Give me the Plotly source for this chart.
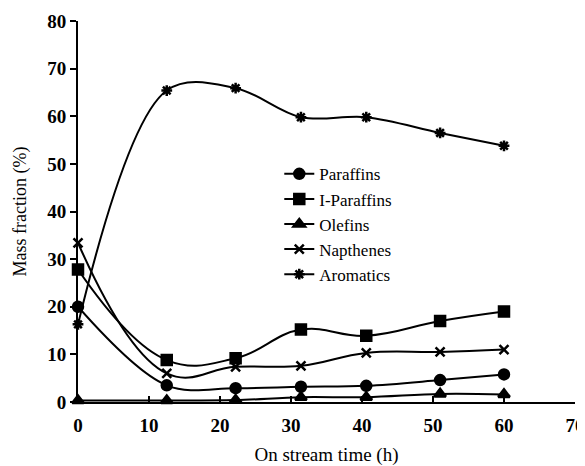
import plotly.graph_objects as go

time_h = [0, 12.5, 22.2, 31.4, 40.6, 51, 60]
paraffins = [20.0, 3.5, 2.9, 3.2, 3.4, 4.6, 5.8]
i_paraffins = [27.8, 8.8, 9.2, 15.2, 13.9, 17.0, 19.0]
olefins = [0.3, 0.3, 0.4, 1.0, 1.0, 1.7, 1.6]
napthenes = [33.4, 6.0, 7.4, 7.6, 10.3, 10.5, 11.0]
aromatics = [16.3, 65.4, 65.9, 59.8, 59.8, 56.5, 53.8]

series = [
    ("Paraffins", paraffins, "circle", 10, 1.0),
    ("I-Paraffins", i_paraffins, "square", 10, 1.2),
    ("Olefins", olefins, "triangle-up", 10, 1.0),
    ("Napthenes", napthenes, "x-thin-open", 9, 1.2),
    ("Aromatics", aromatics, "asterisk-open", 9, 1.0),
]

fig = go.Figure()
for name, vals, sym, size, smooth in series:
    fig.add_trace(go.Scatter(
        x=time_h, y=vals, name=name, mode="lines+markers",
        line=dict(color="black", width=2, shape="spline", smoothing=smooth),
        marker=dict(symbol=sym, size=size, color="black",
                    line=dict(color="black", width=2.5)),
        cliponaxis=False,
    ))

serif = "Times New Roman"
fig.update_layout(
    width=577, height=458,
    margin=dict(l=70, r=10, t=13, b=64),
    paper_bgcolor="white", plot_bgcolor="white",
    font=dict(family=serif, color="black", size=17),
    showlegend=True,
    legend=dict(x=0.405, y=0.645, xanchor="left", yanchor="top",
                bgcolor="rgba(0,0,0,0)", font=dict(size=17, family=serif, color="black"),
                tracegroupgap=0, itemwidth=30),
    xaxis=dict(range=[0, 70], tickvals=[0, 10, 20, 30, 40, 50, 60, 70],
               showgrid=False, zeroline=False, showline=True, linecolor="black",
               linewidth=2, ticks="inside", ticklen=6, tickwidth=2, tickcolor="black",
               automargin=False, ticklabelstandoff=5,
               tickfont=dict(size=19, family=serif, weight="bold"),
               title=dict(text="On stream time (h)", font=dict(size=19, family=serif), standoff=14)),
    yaxis=dict(range=[0, 80], tickvals=[0, 10, 20, 30, 40, 50, 60, 70, 80],
               showgrid=False, zeroline=False, showline=True, linecolor="black",
               linewidth=2, ticks="outside", ticklen=6, tickwidth=2, tickcolor="black",
               automargin=False,
               tickfont=dict(size=19, family=serif, weight="bold"),
               title=dict(text="Mass fraction (%)", font=dict(size=18, family=serif), standoff=16)),
)

fig.write_html("out.html")
